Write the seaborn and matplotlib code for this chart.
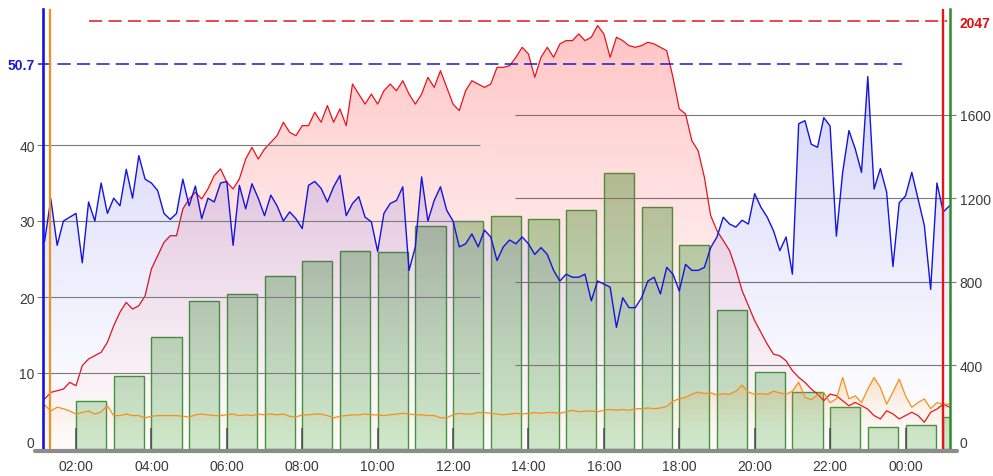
import numpy as np
import pandas as pd
import matplotlib
matplotlib.use("Agg")
import matplotlib.pyplot as plt
import seaborn as sns
from matplotlib.patches import PathPatch
from matplotlib.path import Path
from matplotlib.lines import Line2D
from matplotlib.transforms import ScaledTranslation
from matplotlib.colors import to_rgb

sns.set_theme(style="white")
plt.rcParams["font.family"] = ["Liberation Sans", "DejaVu Sans"]
plt.rcParams["lines.scale_dashes"] = False

# ---------------- data ----------------
t_start_hour = 70 / 60          # 01:10
t_step_hour = 1 / 6             # 10 minutes

blue = [27.3, 32.9, 26.8, 30.0, 30.5, 31.0, 24.5, 32.5, 30.0, 35.0,
        31.0, 33.0, 32.0, 36.8, 33.0, 38.6, 35.5, 35.0, 34.0, 31.0,
        30.2, 31.0, 35.5, 32.0, 34.6, 30.3, 33.0, 32.5, 35.0, 35.2,
        26.8, 34.7, 31.6, 34.9, 33.0, 30.7, 33.4, 32.0, 30.0, 31.2,
        30.3, 29.0, 34.7, 35.2, 34.3, 32.5, 34.5, 36.0, 30.7, 32.3,
        33.2, 30.5, 29.9, 26.0, 31.0, 32.3, 32.7, 34.5, 23.5, 26.6,
        35.8, 30.0, 32.7, 34.5, 31.4, 30.0, 26.6, 27.0, 28.3, 26.6,
        28.8, 27.9, 24.8, 26.6, 27.5, 27.0, 27.9, 27.0, 25.6, 26.5,
        25.6, 23.5, 22.1, 23.0, 22.6, 22.6, 23.0, 19.5, 22.1, 21.7,
        21.3, 16.0, 19.9, 18.6, 18.6, 19.9, 22.1, 22.6, 20.4, 23.9,
        23.0, 20.8, 24.3, 23.5, 23.5, 23.9, 26.5, 27.9, 30.5, 29.6,
        29.2, 30.1, 29.6, 33.6, 31.8, 30.5, 28.7, 26.1, 27.9, 23.0,
        42.8, 43.2, 40.1, 39.7, 43.6, 42.5, 28.0, 36.4, 41.9, 39.5,
        36.4, 49.0, 34.2, 36.9, 33.8, 24.0, 32.4, 33.3, 36.4, 32.9,
        29.4, 21.0, 35.0, 31.2, 32.0]

red = [239, 271, 279, 287, 319, 303, 399, 431, 447, 463,
       511, 590, 655, 702, 670, 686, 734, 862, 925, 989,
       1021, 1021, 1149, 1197, 1229, 1197, 1245, 1309, 1341, 1277,
       1245, 1293, 1388, 1444, 1388, 1436, 1468, 1500, 1564, 1516,
       1500, 1548, 1548, 1612, 1564, 1644, 1564, 1628, 1548, 1747,
       1699, 1651, 1699, 1651, 1715, 1747, 1715, 1763, 1699, 1651,
       1699, 1779, 1731, 1811, 1731, 1651, 1620, 1715, 1763, 1747,
       1731, 1747, 1827, 1827, 1835, 1875, 1923, 1891, 1779, 1875,
       1923, 1875, 1939, 1955, 1955, 1987, 1955, 1971, 2027, 1987,
       1875, 1971, 1955, 1931, 1923, 1931, 1947, 1939, 1923, 1907,
       1779, 1628, 1604, 1476, 1428, 1300, 1117, 1045, 997, 950,
       862, 758, 686, 614, 558, 502, 454, 446, 422, 375,
       343, 319, 287, 263, 231, 263, 255, 231, 207, 223,
       207, 191, 160, 144, 183, 168, 144, 160, 176, 160,
       128, 176, 191, 215, 200]

orange = [5.8, 5.0, 5.5, 5.3, 5.0, 4.6, 4.8, 5.0, 4.6, 4.9,
          5.7, 4.4, 4.4, 4.6, 4.4, 4.4, 4.1, 4.3, 4.4, 4.4,
          4.4, 4.4, 4.3, 4.2, 4.5, 4.6, 4.5, 4.4, 4.4, 4.5,
          4.6, 4.4, 4.5, 4.4, 4.6, 4.5, 4.6, 4.5, 4.6, 4.3,
          4.2, 4.5, 4.5, 4.6, 4.6, 4.4, 4.1, 4.3, 4.4, 4.5,
          4.5, 4.6, 4.5, 4.5, 4.4, 4.5, 4.6, 4.7, 4.6, 4.5,
          4.5, 4.4, 4.4, 4.1, 4.1, 4.5, 4.7, 4.6, 4.6, 4.8,
          4.8, 4.7, 4.6, 4.5, 4.6, 4.7, 4.6, 4.7, 4.8, 4.7,
          4.8, 4.8, 4.7, 4.9, 5.1, 4.9, 5.0, 5.0, 4.9, 5.1,
          5.2, 5.1, 5.2, 5.1, 5.3, 5.3, 5.4, 5.3, 5.4, 5.6,
          6.3, 6.6, 6.8, 7.2, 7.5, 7.3, 7.4, 7.1, 7.3, 7.2,
          7.6, 8.4, 7.5, 7.2, 7.3, 7.2, 7.6, 7.4, 7.2, 7.6,
          8.8, 6.8, 6.5, 7.1, 7.4, 6.1, 6.6, 9.4, 6.6, 7.0,
          6.1, 7.9, 9.4, 8.1, 5.9, 7.5, 9.2, 7.0, 5.5, 6.1,
          6.6, 5.3, 6.1, 5.9, 5.9]

bar_hours = list(range(2, 26))
bar_values = [231, 351, 536, 707, 743, 830, 898, 949, 944, 1069,
              1093, 1114, 1101, 1146, 1320, 1157, 978, 664, 370, 271,
              200, 104, 115, 155]

x_tick_hours = list(range(2, 25, 2))
x_tick_labels = ["02:00", "04:00", "06:00", "08:00", "10:00", "12:00",
                 "14:00", "16:00", "18:00", "20:00", "22:00", "00:00"]
left_ticks = [0, 10, 20, 30, 40]
left_max = 50.7
right_ticks = [0, 400, 800, 1200, 1600]
right_max = 2047
marker_orange_hour = 1.30
marker_red_hour = 25.0

# ---------------- styling ----------------
C_BLUE = "#1414dc"
C_RED = "#e8141c"
C_ORANGE = "#f29020"
C_GREEN = "#2e8b2e"
C_BAR_EDGE = "#3f9a3f"
C_GRID = "#7a7a7a"
C_TXT = "#3a3a3a"

W, H = 993, 477
XMIN, XMAX = 1.125, 25.18
YL = 440 / 7.6
YR = 440 / 0.2089

t = t_start_hour + t_step_hour * np.arange(len(blue))
df = pd.DataFrame({"t": t, "blue": blue, "red": red, "orange": orange})
bars = pd.DataFrame({"center": np.array(bar_hours) + 0.4, "value": bar_values})

fig = plt.figure(figsize=(W / 100, H / 100), dpi=100)
ax = fig.add_axes([43 / W, 27 / H, 907 / W, 440 / H])
ax2 = ax.twinx()
ax.set_zorder(ax2.get_zorder() + 1)
ax.patch.set_visible(False)
ax2.patch.set_facecolor("white")


def gradient_image(axis, rgb, a_bot, a_top, ytop, clip_patch, zorder, gamma=1.0):
    n = 256
    img = np.zeros((n, 1, 4))
    f = np.linspace(0, 1, n)
    if isinstance(rgb[0], (tuple, list, np.ndarray)):
        c0 = np.array(rgb[0]); c1 = np.array(rgb[1])
        img[:, 0, :3] = c0 * (1 - f[:, None]) + c1 * f[:, None]
    else:
        img[:, 0, :3] = rgb
    img[:, 0, 3] = a_bot + (a_top - a_bot) * f ** gamma
    im = axis.imshow(img, extent=[XMIN, XMAX, 0, ytop], origin="lower",
                     aspect="auto", interpolation="bilinear", zorder=zorder)
    im.set_clip_path(clip_patch)
    return im


def gradient_fill(axis, x, y, rgb, a_bot, a_top, ytop, zorder, gamma=1.0):
    poly = axis.fill_between(x, y, 0, facecolor="none", edgecolor="none")
    path = poly.get_paths()[0]
    clip = PathPatch(path, transform=axis.transData, facecolor="none", edgecolor="none")
    axis.add_patch(clip)
    gradient_image(axis, rgb, a_bot, a_top, ytop, clip, zorder, gamma)


# ---- right axis: bars + red series ----
sns.barplot(data=bars, x="center", y="value", native_scale=True, ax=ax2,
            errorbar=None, color="#b0dab0", width=0.8)
bar_patches = list(ax2.patches)
paths = [p.get_path().transformed(p.get_patch_transform()) for p in bar_patches]
for p in bar_patches:
    p.set_facecolor("none")
    p.set_edgecolor(C_BAR_EDGE)
    p.set_linewidth(1.0)
    p.set_zorder(1.2)
clip_bars = PathPatch(Path.make_compound_path(*paths), transform=ax2.transData,
                      facecolor="none", edgecolor="none")
ax2.add_patch(clip_bars)
gradient_image(ax2, (to_rgb("#d0ecd0"), to_rgb("#90c890")), 1.0, 1.0, YR, clip_bars, 1.0)

ax2.hlines(right_ticks[1:], 13.65, 25.35, color=C_GRID, lw=0.8, zorder=1.5, clip_on=False)
gradient_fill(ax2, df["t"], df["red"], to_rgb("#ff0000"), 0.02, 0.25, YR, 2, gamma=1.5)
sns.lineplot(data=df, x="t", y="red", ax=ax2, color=C_RED, lw=0.9, zorder=3)
ax2.plot([2.35, 25.1], [right_max, right_max], color=C_RED, lw=1.1,
         dashes=(9.5, 4.5), zorder=3, clip_on=False)

# ---- left axis: blue + orange series ----
gradient_fill(ax, df["t"], df["blue"], to_rgb("#1010e0"), 0.0, 0.22, YL, 1, gamma=1.2)
gradient_fill(ax, df["t"], df["orange"], to_rgb("#f7901e"), 0.0, 0.28, 10, 1.1, gamma=2.0)
ax.hlines(left_ticks[1:], 0.965, 12.72, color=C_GRID, lw=0.8, zorder=2, clip_on=False)
ax.plot([0.99, 23.9], [left_max, left_max], color="#1a1ad0", lw=1.1,
        dashes=(9.5, 4.5), zorder=3, clip_on=False)
sns.lineplot(data=df, x="t", y="orange", ax=ax, color=C_ORANGE, lw=0.9, zorder=4)
sns.lineplot(data=df, x="t", y="blue", ax=ax, color=C_BLUE, lw=1.0, zorder=5)

ax.axvline(marker_orange_hour, color=C_ORANGE, lw=1.6, zorder=6)
ax.axvline(marker_red_hour, color="#e01818", lw=1.7, zorder=6)

# ---- axes limits, spines, ticks ----
ax.set_xlim(XMIN, XMAX)
ax2.set_xlim(XMIN, XMAX)
ax.set_ylim(0, YL)
ax2.set_ylim(0, YR)

for s in ax2.spines.values():
    s.set_visible(False)
for name in ["top", "bottom"]:
    ax.spines[name].set_visible(False)
ax.spines["left"].set_color(C_BLUE)
ax.spines["left"].set_linewidth(1.9)
ax.spines["right"].set_color(C_GREEN)
ax.spines["right"].set_linewidth(1.8)
ax.spines["left"].set_zorder(7)
ax.spines["right"].set_zorder(7)

ax.set_xticks(x_tick_hours, x_tick_labels)
ax.tick_params(axis="x", direction="in", length=15, width=1.1, color="#4a4a58",
               pad=7, labelsize=10, labelcolor=C_TXT, bottom=True)
ax2.tick_params(axis="x", bottom=False, labelbottom=False)

ax.set_yticks(left_ticks + [left_max], [str(v) for v in left_ticks] + [f"{left_max:g}"])
ax.tick_params(axis="y", length=0, pad=6, labelsize=10, labelcolor=C_TXT)
ax2.set_yticks(right_ticks + [right_max], [str(v) for v in right_ticks] + [str(right_max)])
ax2.tick_params(axis="y", length=0, pad=7, labelsize=10, labelcolor=C_TXT)

lbl_l = ax.get_yticklabels()
lbl_l[-1].set_color("#1a1ad0"); lbl_l[-1].set_fontweight("bold")
lbl_r = ax2.get_yticklabels()
lbl_r[-1].set_color("#e01010"); lbl_r[-1].set_fontweight("bold")
shift = ScaledTranslation(0, 7 / 100, fig.dpi_scale_trans)
lbl_l[0].set_transform(lbl_l[0].get_transform() + shift)
lbl_r[0].set_transform(lbl_r[0].get_transform() + shift)

for a in (ax, ax2):
    a.set_xlabel("")
    a.set_ylabel("")
    a.grid(False)
    if a.get_legend() is not None:
        a.get_legend().remove()

fig.add_artist(Line2D([35 / W, 957 / W], [25 / H, 25 / H], lw=3.0, color="#8c8c8c"))

fig.savefig("out.png", dpi=100, facecolor="white")
